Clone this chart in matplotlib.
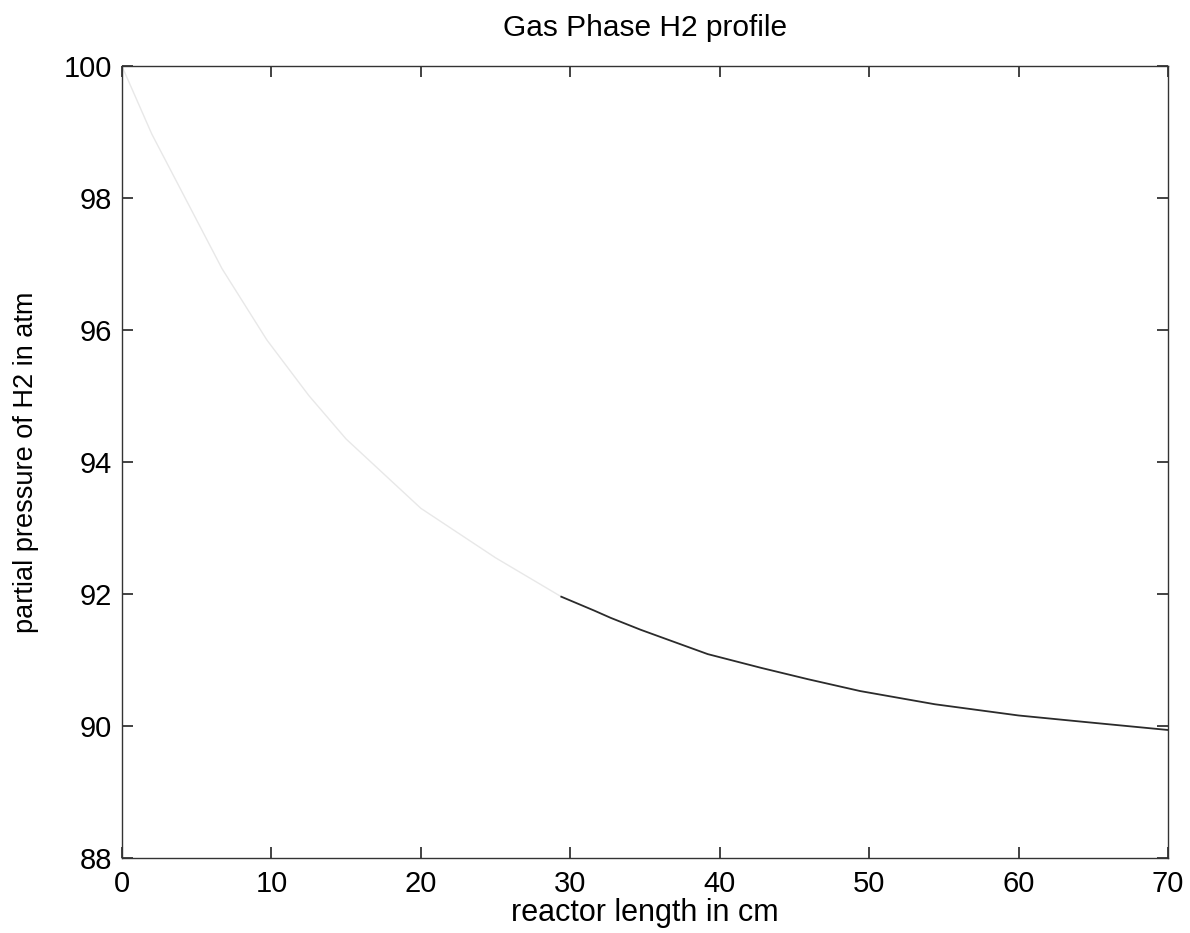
import matplotlib
matplotlib.use("Agg")
import matplotlib.pyplot as plt
import numpy as np

# reactor length (cm) and H2 partial pressure (atm)
length_cm = [0.0, 0.7, 2.0, 6.7, 9.7, 12.5, 15.0, 20.0, 25.0, 29.4, 31.6, 32.7,
             34.7, 36.4, 39.2, 42.8, 45.9, 49.4, 54.4, 60.0, 64.5, 70.0]
p_h2 = [100.0, 99.64, 98.97, 96.93, 95.85, 95.01, 94.35, 93.3, 92.55, 91.96, 91.75, 91.64,
        91.46, 91.32, 91.09, 90.88, 90.71, 90.53, 90.33, 90.16, 90.06, 89.94]

x_ticks = [0, 10, 20, 30, 40, 50, 60, 70]
y_ticks = [88, 90, 92, 94, 96, 98, 100]

plt.rcParams["font.family"] = ["Liberation Sans", "DejaVu Sans"]

x = np.array(length_cm)
y = np.array(p_h2)
# the scan lost most of the early part of the curve, so draw it very light
faint = x <= 29.4
dark = x >= 29.4

fig = plt.figure(figsize=(11.9, 9.33), dpi=100)
ax = fig.add_axes([0.1025, 0.0804, 0.879, 0.8486])

ax.plot(x[faint], y[faint], color="#e8e8e8", linewidth=1.0, zorder=2)
ax.plot(x[dark], y[dark], color="#2b2b2b", linewidth=1.3, zorder=3)

ax.set_xlim(0, 70)
ax.set_ylim(88, 100)
ax.set_xticks(x_ticks)
ax.set_yticks(y_ticks)
ax.tick_params(direction="in", top=True, right=True, length=8, width=1.2,
               color="#222222", labelsize=21)
ax.tick_params(axis="x", pad=9)
ax.tick_params(axis="y", pad=7)
for spine in ax.spines.values():
    spine.set_color("#333333")
    spine.set_linewidth(1.0)

ax.set_xlabel("reactor length in cm", fontsize=22, labelpad=0)
ax.set_ylabel("partial pressure of H2 in atm", fontsize=19.5, labelpad=18)
ax.set_title("Gas Phase H2 profile", fontsize=21.5, pad=22)

fig.savefig("out.png", dpi=100)
